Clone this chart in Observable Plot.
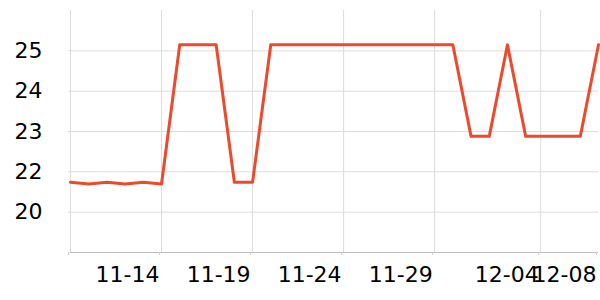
<!DOCTYPE html>
<html>
<head>
<meta charset="utf-8">
<script src="https://cdn.jsdelivr.net/npm/d3@7"></script>
<script src="https://cdn.jsdelivr.net/npm/@observablehq/plot@0.6"></script>
<style>
  html, body { margin: 0; padding: 0; background: #fff; }
  svg { display: block; }
</style>
</head>
<body>
<div id="chart"></div>
<script>
const dates = [
  "2023-11-09","2023-11-10","2023-11-11","2023-11-12","2023-11-13","2023-11-14",
  "2023-11-15","2023-11-16","2023-11-17","2023-11-18","2023-11-19","2023-11-20",
  "2023-11-21","2023-11-22","2023-11-23","2023-11-24","2023-11-25","2023-11-26",
  "2023-11-27","2023-11-28","2023-11-29","2023-11-30","2023-12-01","2023-12-02",
  "2023-12-03","2023-12-04","2023-12-05","2023-12-06","2023-12-07","2023-12-08"
];
const values = [
  21.74, 21.70, 21.74, 21.70, 21.74, 21.70,
  25.15, 25.15, 25.15, 21.74, 21.74, 25.15,
  25.15, 25.15, 25.15, 25.15, 25.15, 25.15,
  25.15, 25.15, 25.15, 25.15, 22.88, 22.88,
  25.15, 22.88, 22.88, 22.88, 22.88, 25.15
];
const xTickDates = ["2023-11-09","2023-11-14","2023-11-19","2023-11-24","2023-11-29","2023-12-04T19:45","2023-12-08"];
const xTickLabels = ["", "11-14", "11-19", "11-24", "11-29", "12-04", "12-08"];
const xGridDates = ["2023-11-09","2023-11-14","2023-11-19","2023-11-24","2023-11-29","2023-12-04T19:45"];
const yTickValues = [21, 22, 23, 24, 25];
const yTickLabels = ["20", "22", "23", "24", "25"];

const parse = d3.isoParse;
const data = dates.map((d, i) => ({date: parse(d), value: values[i]}));
const xTicks = xTickDates.map(parse);
const xGrid = xGridDates.map(parse);
const xLabelOf = new Map(xTicks.map((t, i) => [+t, xTickLabels[i]]));
const yLabelOf = new Map(yTickValues.map((v, i) => [v, yTickLabels[i]]));

const chart = Plot.plot({
  width: 600,
  height: 300,
  marginLeft: 70,
  marginRight: 2,
  marginTop: 10,
  marginBottom: 48,
  style: {fontFamily: "DejaVu Sans", fontSize: "22px", color: "#000", background: "#fff"},
  x: {type: "utc", domain: [parse(dates[0]), parse(dates[dates.length - 1])]},
  y: {domain: [20, 26]},
  marks: [
    Plot.gridY(yTickValues, {stroke: "#dcdcdc", strokeOpacity: 1, strokeWidth: 1}),
    Plot.gridX(xGrid, {stroke: "#dcdcdc", strokeOpacity: 1, strokeWidth: 1}),
    Plot.ruleY([20], {stroke: "#bdbdbd", strokeWidth: 1.2}),
    Plot.axisY(yTickValues, {
      tickSize: 2, tickPadding: 26, stroke: "#dcdcdc",
      tickFormat: (d) => yLabelOf.get(d), fontSize: 22, fill: "#000", label: null
    }),
    Plot.axisX(xTicks, {
      tickSize: 3, tickPadding: 11, stroke: "#cfcfcf",
      tickFormat: (d) => xLabelOf.get(+d), textAnchor: "end", dx: -2,
      fontSize: 22, fill: "#000", label: null
    }),
    Plot.line(data, {x: "date", y: "value", stroke: "#ec4a2c", strokeWidth: 3})
  ]
});
document.getElementById("chart").append(chart);
</script>
</body>
</html>
